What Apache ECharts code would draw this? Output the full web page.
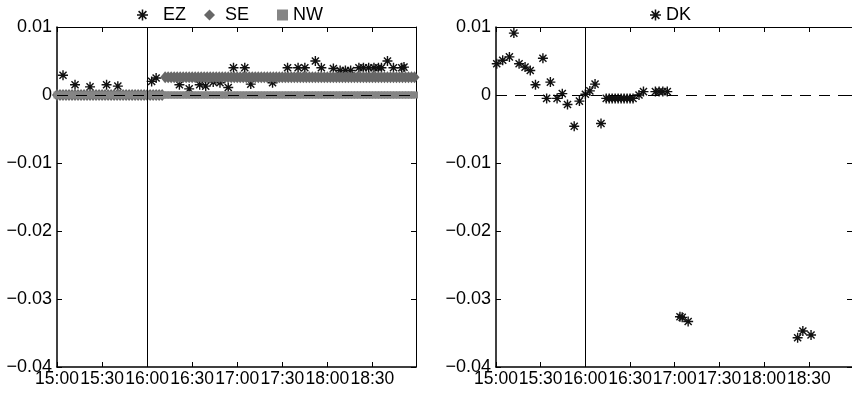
<!DOCTYPE html>
<html>
<head>
<meta charset="utf-8">
<script src="https://cdn.jsdelivr.net/npm/echarts@6/dist/echarts.min.js"></script>
<style>
    html, body { margin: 0; padding: 0; background: #fff; }
    #chart { width: 852px; height: 397px; }
</style>
</head>
<body>
<div id="chart"></div>
<script>
// Time is in minutes after 15:00
const tickLabels = ['15:00', '15:30', '16:00', '16:30', '17:00', '17:30', '18:00', '18:30'];

// SE / NW sampled every 2 minutes
const bandMinutes = [
    0, 2, 4, 6, 8, 10, 12, 14, 16, 18, 20, 22,
    24, 26, 28, 30, 32, 34, 36, 38, 40, 42, 44, 46,
    48, 50, 52, 54, 56, 58, 60, 62, 64, 66, 68, 70,
    72, 74, 76, 78, 80, 82, 84, 86, 88, 90, 92, 94,
    96, 98, 100, 102, 104, 106, 108, 110, 112, 114, 116, 118,
    120, 122, 124, 126, 128, 130, 132, 134, 136, 138, 140, 142,
    144, 146, 148, 150, 152, 154, 156, 158, 160, 162, 164, 166,
    168, 170, 172, 174, 176, 178, 180, 182, 184, 186, 188, 190,
    192, 194, 196, 198, 200, 202, 204, 206, 208, 210, 212, 214,
    216, 218, 220, 222, 224, 226, 228, 230, 232, 234, 236, 238
];
const seValues = [
    0, 0, 0, 0, 0, 0, 0, 0, 0, 0, 0, 0,
    0, 0, 0, 0, 0, 0, 0, 0, 0, 0, 0, 0,
    0, 0, 0, 0, 0, 0, 0, 0, 0, 0, 0, 0,
    0.0026, 0.0026, 0.0026, 0.0026, 0.0026, 0.0026, 0.0026, 0.0026, 0.0026, 0.0026, 0.0026, 0.0026,
    0.0026, 0.0026, 0.0026, 0.0026, 0.0026, 0.0026, 0.0026, 0.0026, 0.0026, 0.0026, 0.0026, 0.0026,
    0.0026, 0.0026, 0.0026, 0.0026, 0.0026, 0.0026, 0.0026, 0.0026, 0.0026, 0.0026, 0.0026, 0.0026,
    0.0026, 0.0026, 0.0026, 0.0026, 0.0026, 0.0026, 0.0026, 0.0026, 0.0026, 0.0026, 0.0026, 0.0026,
    0.0026, 0.0026, 0.0026, 0.0026, 0.0026, 0.0026, 0.0026, 0.0026, 0.0026, 0.0026, 0.0026, 0.0026,
    0.0026, 0.0026, 0.0026, 0.0026, 0.0026, 0.0026, 0.0026, 0.0026, 0.0026, 0.0026, 0.0026, 0.0026,
    0.0026, 0.0026, 0.0026, 0.0026, 0.0026, 0.0026, 0.0026, 0.0026, 0.0026, 0.0026, 0.0026, 0.0026
];
const nwValues = [
    0, 0, 0, 0, 0, 0, 0, 0, 0, 0, 0, 0,
    0, 0, 0, 0, 0, 0, 0, 0, 0, 0, 0, 0,
    0, 0, 0, 0, 0, 0, 0, 0, 0, 0, 0, 0,
    0, 0, 0, 0, 0, 0, 0, 0, 0, 0, 0, 0,
    0, 0, 0, 0, 0, 0, 0, 0, 0, 0, 0, 0,
    0, 0, 0, 0, 0, 0, 0, 0, 0, 0, 0, 0,
    0, 0, 0, 0, 0, 0, 0, 0, 0, 0, 0, 0,
    0, 0, 0, 0, 0, 0, 0, 0, 0, 0, 0, 0,
    0, 0, 0, 0, 0, 0, 0, 0, 0, 0, 0, 0,
    0, 0, 0, 0, 0, 0, 0, 0, 0, 0, 0, 0
];

// EZ asterisks (left panel)
const ezMinutes = [
    4, 12, 22, 33, 40.5,
    63, 66, 81.5, 88, 95, 99, 104, 108.5, 114, 117.5, 125, 129, 143.5,
    153.5, 160.5, 165, 172, 176, 184, 188.5, 192, 195.5,
    201, 204, 207.5, 211, 214, 216, 220, 224, 229.5, 231
];
const ezValues = [
    0.0029, 0.0015, 0.0012, 0.0015, 0.0013,
    0.0020, 0.0025, 0.0015, 0.0009, 0.0015, 0.0013, 0.0019, 0.0018, 0.0011, 0.0040, 0.0040, 0.0016, 0.0018,
    0.0040, 0.0040, 0.0040, 0.0050, 0.0040, 0.0039, 0.0036, 0.0036, 0.0036,
    0.0040, 0.0040, 0.0040, 0.0040, 0.0040, 0.0040, 0.0050, 0.0040, 0.0040, 0.0041
];

// DK asterisks (right panel)
const dkMinutes = [
    0.5, 4.5, 9, 12, 15.5, 19.5, 23, 26.5, 31.5, 34, 36.5, 41, 44.5, 48, 52.5, 56, 60, 63, 66.5, 70.5,
    74, 76, 78, 80, 82, 84, 86, 88, 90, 92, 96, 99, 107, 109.5, 112, 115,
    123.5, 125, 129, 202.5, 206, 211.5
];
const dkValues = [
    0.0046, 0.0051, 0.0056, 0.0091, 0.0046, 0.0041, 0.0036, 0.0015, 0.0054, -0.0005, 0.0019, -0.0005, 0.0002, -0.0014, -0.0046, -0.0009, 0.0001, 0.0006, 0.0016, -0.0042,
    -0.0005, -0.0005, -0.0005, -0.0005, -0.0005, -0.0005, -0.0005, -0.0005, -0.0005, -0.0005, 0.0000, 0.0005, 0.0005, 0.0005, 0.0005, 0.0005,
    -0.0326, -0.0327, -0.0333, -0.0357, -0.0347, -0.0353
];

const FONT = 'Liberation Sans';
const ASTERISK = 'path://M8.6 0L11.4 0L11.4 20L8.6 20Z M0 8.6L20 8.6L20 11.4L0 11.4Z ' +
    'M3.9 1.9L18.1 16.1L16.1 18.1L1.9 3.9Z M16.1 1.9L18.1 3.9L3.9 18.1L1.9 16.1Z';

function pairs(xs, ys) {
    return xs.map((x, i) => [x, ys[i]]);
}

function timeLabel(v) {
    return v % 30 === 0 && tickLabels[v / 30] ? tickLabels[v / 30] : '';
}

function valueLabel(v) {
    const r = Math.round(v * 100) / 100;
    if (r === 0) return '0';
    const s = Math.abs(r).toFixed(2);
    return r < 0 ? '\u2212' + s : s;
}

function xAxisFor(grid, top) {
    return {
        type: 'value', gridIndex: grid, position: top ? 'top' : 'bottom',
        min: 0, max: 239, interval: 30,
        axisLine: { show: true, onZero: false, lineStyle: { color: '#000', width: top ? 1 : 1.5 } },
        axisTick: { show: true, inside: true, length: 5, lineStyle: { color: '#000' } },
        axisLabel: {
            show: !top, margin: 3, interval: 0, showMinLabel: true, showMaxLabel: false,
            hideOverlap: false, formatter: timeLabel,
            color: '#000', fontFamily: FONT, fontSize: 17.5
        },
        splitLine: { show: false }
    };
}

function yAxisFor(grid, right) {
    return {
        type: 'value', gridIndex: grid, position: right ? 'right' : 'left',
        min: -0.04, max: 0.01, interval: 0.01,
        axisLine: { show: true, onZero: false, lineStyle: { color: '#000', width: right ? 1 : 1.5 } },
        axisTick: { show: true, inside: true, length: 5, lineStyle: { color: '#000' } },
        axisLabel: {
            show: !right, margin: 5, interval: 0, showMinLabel: true, showMaxLabel: true,
            hideOverlap: false, formatter: valueLabel,
            color: '#000', fontFamily: FONT, fontSize: 18
        },
        splitLine: { show: false }
    };
}

// Vertical line at 16:00 and dashed zero line
function guideLines() {
    return {
        silent: true, symbol: 'none', animation: false,
        label: { show: false },
        data: [
            { xAxis: 60, lineStyle: { type: 'solid', color: '#000', width: 1 } },
            { yAxis: 0, lineStyle: { type: [11, 8], color: '#000', width: 1 } }
        ]
    };
}

function legendFor(left, items, names) {
    return {
        left: left, top: 1, itemWidth: 11, itemHeight: 11, itemGap: 18,
        selectedMode: false,
        data: items,
        formatter: name => names[name] || name,
        textStyle: { color: '#000', fontFamily: FONT, fontSize: 18 }
    };
}

const chart = echarts.init(document.getElementById('chart'));

chart.setOption({
    animation: false,
    grid: [
        { left: 57, top: 27, width: 359, height: 340 },
        { left: 496, top: 27, width: 359, height: 340 }
    ],
    legend: [
        legendFor(132, [
            { name: 'EZ', icon: ASTERISK },
            { name: 'SE', icon: 'diamond' },
            { name: 'NW', icon: 'rect' }
        ], { EZ: '  EZ', SE: ' SE  ', NW: 'NW' }),
        legendFor(645, [{ name: 'DK', icon: ASTERISK }], {})
    ],
    xAxis: [xAxisFor(0, false), xAxisFor(0, true), xAxisFor(1, false), xAxisFor(1, true)],
    yAxis: [yAxisFor(0, false), yAxisFor(0, true), yAxisFor(1, false), yAxisFor(1, true)],
    series: [
        {
            name: 'EZ', type: 'scatter', xAxisIndex: 0, yAxisIndex: 0, z: 2,
            symbol: ASTERISK, symbolSize: 10,
            itemStyle: { color: '#111', opacity: 1 },
            data: pairs(ezMinutes, ezValues)
        },
        {
            name: 'SE', type: 'scatter', xAxisIndex: 0, yAxisIndex: 0, z: 3,
            symbol: 'diamond', symbolSize: [10, 12],
            itemStyle: { color: '#676767', opacity: 1 },
            data: pairs(bandMinutes, seValues)
        },
        {
            name: 'NW', type: 'scatter', xAxisIndex: 0, yAxisIndex: 0, z: 4,
            symbol: 'rect', symbolSize: 7,
            itemStyle: { color: '#858585', opacity: 1 },
            data: pairs(bandMinutes, nwValues),
            markLine: guideLines()
        },
        {
            name: 'DK', type: 'scatter', xAxisIndex: 2, yAxisIndex: 2, z: 4,
            symbol: ASTERISK, symbolSize: 10,
            itemStyle: { color: '#111', opacity: 1 },
            data: pairs(dkMinutes, dkValues),
            markLine: guideLines()
        }
    ]
});
</script>
</body>
</html>
